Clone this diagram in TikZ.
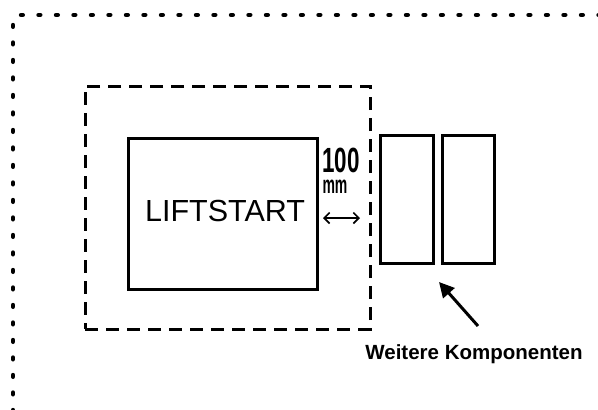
\documentclass[tikz,border=0pt]{standalone}
\usepackage{fontspec}
\setmainfont{Liberation Sans}
\usetikzlibrary{arrows.meta}
\begin{document}
\begin{tikzpicture}[x=1pt,y=-1pt,
  solidbox/.style={draw,line width=3pt,inner sep=0pt},
  dashbox/.style={draw,line width=3pt,dash pattern=on 13pt off 8pt,inner sep=0pt},
  dotline/.style={line width=4.4pt,line cap=round,dash pattern=on 1.8pt off 15.7pt},
  plain/.style={inner sep=0pt,outer sep=0pt}]
\useasboundingbox (0,0) rectangle (598,410);
\clip (0,0) rectangle (598,410);
% dotted outer border
\coordinate (tl) at (21,15);
\coordinate (tr) at (610,15);
\coordinate (lt) at (13,25);
\coordinate (lb) at (13,420);
\draw[dotline] (tl) -- (tr);
\draw[dotline] (lt) -- (lb);
% dashed area
\node[dashbox,minimum width=285pt,minimum height=243pt] (area) at (227.5,207.5) {};
% liftstart
\node[solidbox,minimum width=189pt,minimum height=151pt] (lift) at (222.5,213.5) {};
\node[plain] (lifttext) at (225,211) {\fontsize{30.5}{30.5}\selectfont LIFTSTART};
% other components
\node[solidbox,minimum width=53pt,minimum height=128pt] (compA) at (406.5,199.5) {};
\node[solidbox,minimum width=52pt,minimum height=128pt] (compB) at (468,199.5) {};
% distance
\node[plain,anchor=base] (dist) at (341,172) {\scalebox{0.64}[1]{\bfseries\fontsize{35}{35}\selectfont 100}};
\node[plain,anchor=base] (unit) at (335,193) {\scalebox{0.56}[1]{\bfseries\fontsize{25}{25}\selectfont mm}};
\coordinate (dl) at (323,218);
\coordinate (dr) at (360,218);
\draw[line width=1.6pt,{Straight Barb[length=5.5pt,width=11pt]}-{Straight Barb[length=5.5pt,width=11pt]}] (dl) -- (dr);
% label and arrow
\node[plain,anchor=base] (label) at (474,359) {\bfseries\fontsize{20.5}{20.5}\selectfont Weitere Komponenten};
\coordinate (arrtail) at (478,326);
\coordinate (arrtip) at (439,282);
\draw[line width=3pt,-{Triangle[length=15pt,width=15pt]}] (arrtail) -- (arrtip);
\end{tikzpicture}
\end{document}
